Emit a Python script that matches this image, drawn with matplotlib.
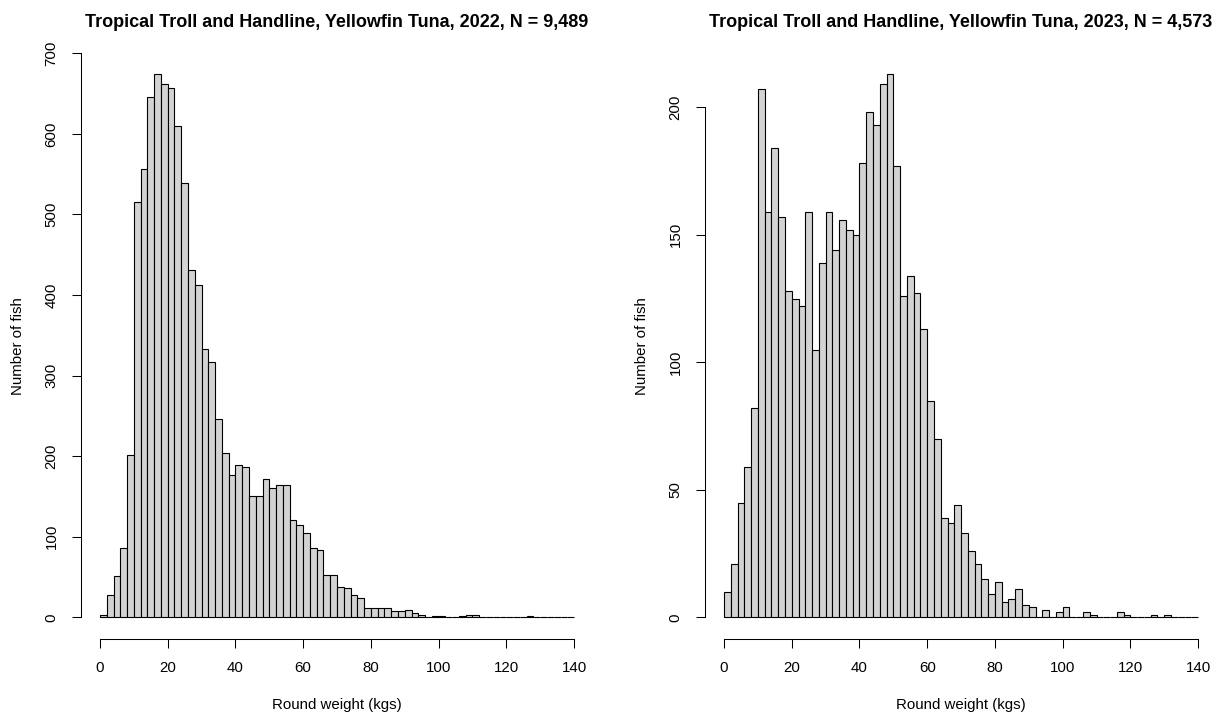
import numpy as np
import matplotlib.pyplot as plt

plt.rcParams['font.family'] = ['Liberation Sans', 'DejaVu Sans']

# 2 kg weight classes from 0 to 140 kg
breaks = np.arange(0, 142, 2)

# counts per weight class, 2022 (N = 9,489)
counts_2022 = [3, 28, 51, 86, 201, 515, 556, 646, 674, 662,
               657, 610, 539, 431, 412, 333, 317, 246, 204, 176,
               189, 186, 150, 151, 172, 161, 164, 164, 121, 115,
               105, 86, 83, 52, 52, 37, 36, 28, 24, 12,
               11, 11, 12, 8, 8, 9, 5, 3, 0, 1,
               1, 0, 0, 1, 3, 3, 0, 0, 0, 0,
               0, 0, 0, 1, 0, 0, 0, 0, 0, 0]

# counts per weight class, 2023 (N = 4,573)
counts_2023 = [10, 21, 45, 59, 82, 207, 159, 184, 157, 128,
               125, 122, 159, 105, 139, 159, 144, 156, 152, 150,
               178, 198, 193, 209, 213, 177, 126, 134, 127, 113,
               85, 70, 39, 37, 44, 33, 26, 21, 15, 9,
               14, 6, 7, 11, 5, 4, 0, 3, 0, 2,
               4, 0, 0, 2, 1, 0, 0, 0, 2, 1,
               0, 0, 0, 1, 0, 1, 0, 0, 0, 0]

titles = ['Tropical Troll and Handline, Yellowfin Tuna, 2022, N = 9,489',
          'Tropical Troll and Handline, Yellowfin Tuna, 2023, N = 4,573']
y_ticks = [np.arange(0, 701, 100), np.arange(0, 201, 50)]

fig = plt.figure(figsize=(12.2, 7.13), dpi=100)
ax1 = fig.add_axes([0.0664, 0.1038, 0.4197, 0.8226])
ax2 = fig.add_axes([0.5779, 0.1038, 0.4197, 0.8226])

for ax, counts, title, yt in zip([ax1, ax2], [counts_2022, counts_2023], titles, y_ticks):
    ax.bar(breaks[:-1], counts, width=2, align='edge',
           color='#D3D3D3', edgecolor='black', linewidth=0.8)
    top = max(counts)
    ax.set_xlim(-5.6, 145.6)
    ax.set_ylim(-0.04 * top, 1.04 * top)

    # R-style axes: detached lines spanning only the tick range
    for s in ['top', 'right']:
        ax.spines[s].set_visible(False)
    ax.spines['bottom'].set_bounds(0, 140)
    ax.spines['left'].set_bounds(yt[0], yt[-1])
    for s in ['bottom', 'left']:
        ax.spines[s].set_linewidth(0.75)

    ax.set_xticks(np.arange(0, 141, 20))
    ax.set_yticks(yt)
    ax.tick_params(length=6.2, width=0.75, labelsize=10.8, pad=10)
    for lab in ax.get_yticklabels():
        lab.set_rotation(90)
        lab.set_va('center')

    ax.set_xlabel('Round weight (kgs)', fontsize=10.8, labelpad=16)
    ax.set_ylabel('Number of fish', fontsize=10.8, labelpad=14)
    ax.set_title(title, fontsize=13, fontweight='bold', pad=18)

plt.savefig('out.png', dpi=100)
